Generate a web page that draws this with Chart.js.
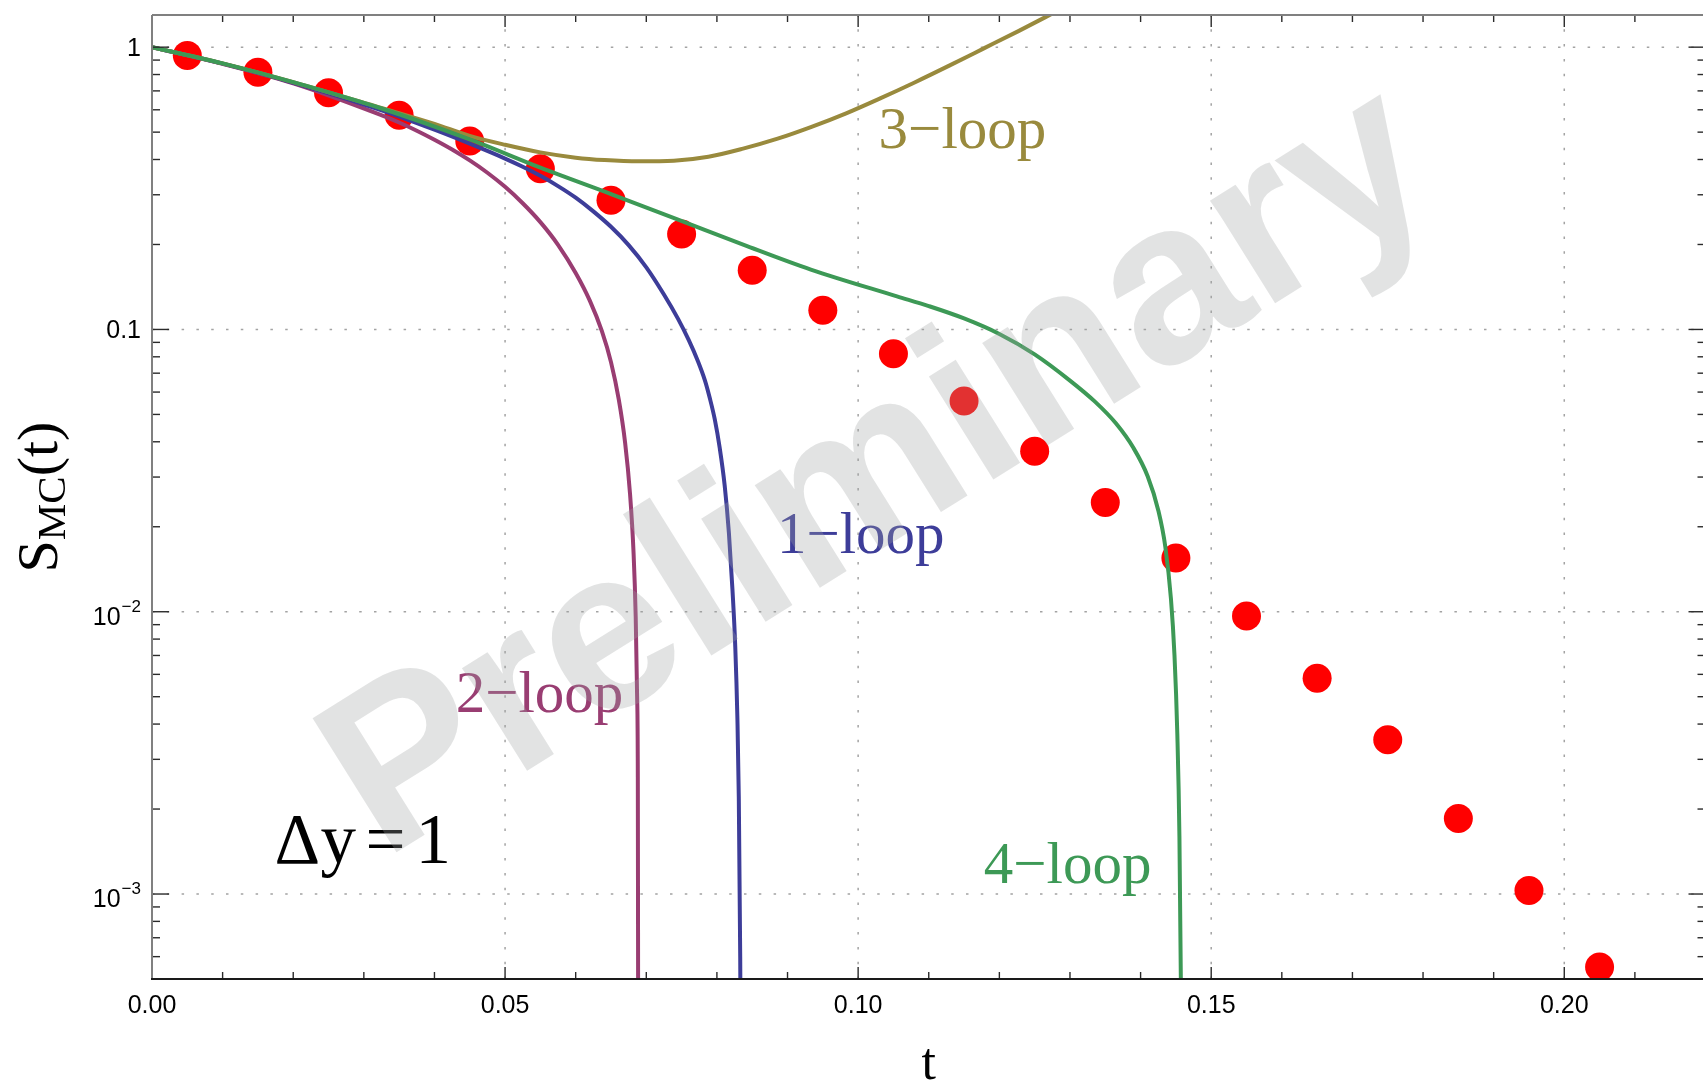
<!DOCTYPE html>
<html>
<head>
<meta charset="utf-8">
<title>S_MC(t)</title>
<script src="https://cdn.jsdelivr.net/npm/chart.js@4.4.1/dist/chart.umd.min.js"></script>
<style>
  html, body { margin: 0; padding: 0; background: #fff; overflow: hidden; }
  #chart { display: block; }
</style>
</head>
<body>
<canvas id="chart" width="1720" height="1085"></canvas>
<script>
// Monte Carlo points (red dots)
const mcT = [0.005, 0.015, 0.025, 0.035, 0.045, 0.055, 0.065, 0.075, 0.085, 0.095, 0.105,
             0.115, 0.125, 0.135, 0.145, 0.155, 0.165, 0.175, 0.185, 0.195, 0.205];
const mcS = [0.935, 0.815, 0.689, 0.574, 0.465, 0.371, 0.287, 0.218, 0.162, 0.117, 0.082,
             0.0558, 0.0370, 0.0244, 0.0155, 0.00966, 0.00581, 0.00352, 0.00185, 0.00103, 0.000551];

// fixed order curves
const loop1T = [0, 0.01, 0.02, 0.0322, 0.04, 0.045, 0.05, 0.0525, 0.055, 0.0575, 0.06, 0.0625, 0.065, 0.0675,
                0.07, 0.0725, 0.0745, 0.076, 0.0773, 0.0783, 0.079, 0.0797, 0.0804, 0.0811, 0.0817, 0.0822,
                0.0826, 0.0829, 0.0831, 0.0833, 0.0834];
const loop1S = [1, 0.874, 0.748, 0.601, 0.51, 0.455, 0.403, 0.377, 0.350, 0.322, 0.293, 0.262, 0.231, 0.199,
                0.166, 0.133, 0.109, 0.0918, 0.0773, 0.066, 0.057, 0.048, 0.038, 0.028, 0.019, 0.012,
                0.0075, 0.0042, 0.0022, 0.0006, 0.0002];

const loop2T = [0, 0.01, 0.02, 0.0322, 0.035, 0.0375, 0.04, 0.0425, 0.045, 0.0475, 0.05, 0.0525, 0.055, 0.0575,
                0.06, 0.062, 0.0637, 0.065, 0.0661, 0.067, 0.0677, 0.0682, 0.0685, 0.0687, 0.0688, 0.06885, 0.06888];
const loop2S = [1, 0.873, 0.745, 0.578, 0.541, 0.506, 0.470, 0.434, 0.397, 0.359, 0.320, 0.280, 0.240, 0.1995,
                0.1585, 0.1265, 0.0988, 0.0766, 0.0565, 0.0397, 0.0261, 0.0161, 0.0096, 0.0050, 0.0026, 0.0003, 0.0001];

const loop3T = [0, 0.01, 0.02, 0.0322, 0.04, 0.045, 0.05, 0.055, 0.06, 0.0641, 0.069, 0.0739, 0.0788, 0.0837,
                0.0886, 0.0934, 0.0983, 0.1032, 0.108, 0.1129, 0.1178, 0.1227, 0.1266, 0.13];
const loop3S = [1, 0.876, 0.752, 0.612, 0.535, 0.485, 0.451, 0.424, 0.406, 0.398, 0.394, 0.396, 0.409, 0.437,
                0.474, 0.522, 0.583, 0.66, 0.75, 0.86, 0.99, 1.14, 1.28, 1.42];

const loop4T = [0, 0.01, 0.02, 0.0322, 0.045, 0.055, 0.0651, 0.0745, 0.0839, 0.0933, 0.1055, 0.11, 0.115, 0.12,
                0.125, 0.13, 0.1335, 0.1365, 0.139, 0.141, 0.1425, 0.1435, 0.1443, 0.1448, 0.1452, 0.1455,
                0.1457, 0.1458];
const loop4S = [1, 0.876, 0.752, 0.61, 0.471, 0.374, 0.301, 0.245, 0.199, 0.163, 0.131, 0.121, 0.1094, 0.0964,
                0.0816, 0.0659, 0.0556, 0.0465, 0.038, 0.0302, 0.0229, 0.0170, 0.0111, 0.0070, 0.0037, 0.0016,
                0.0005, 0.0002];

// axes
const xTickValues = [0, 0.05, 0.10, 0.15, 0.20];
const xTickLabels = ['0.00', '0.05', '0.10', '0.15', '0.20'];
const yTickValues = [1e-3, 1e-2, 0.1, 1];
const yTickBase = ['10', '10', '0.1', '1'];
const yTickExp = ['\u22123', '\u22122', '', ''];

// curve labels, anchored in data coordinates (left edge, baseline)
const labelText = ['1\u2212loop', '2\u2212loop', '3\u2212loop', '4\u2212loop'];
const labelT = [0.0885, 0.0430, 0.1029, 0.1178];
const labelS = [0.0162, 0.00440, 0.438, 0.00109];

const colLoop1 = '#3d3d99';
const colLoop2 = '#993d72';
const colLoop3 = '#998a3d';
const colLoop4 = '#3d9956';
const labelColors = [colLoop1, colLoop2, colLoop3, colLoop4];

const SERIF = '"Liberation Serif", "Times New Roman", serif';
const SANS = '"Liberation Sans", Arial, sans-serif';

function pts(ts, ss) {
  return ts.map((t, i) => ({ x: t, y: ss[i] }));
}

function curve(label, ts, ss, color, order) {
  return {
    label: label,
    data: pts(ts, ss),
    showLine: true,
    borderColor: color,
    borderWidth: 4,
    pointRadius: 0,
    cubicInterpolationMode: 'monotone',
    order: order
  };
}

const decorPlugin = {
  id: 'decor',
  beforeDatasetsDraw(chart) {
    const { ctx, chartArea: a, scales: { x, y } } = chart;
    ctx.save();
    ctx.strokeStyle = '#a3a3a3';
    ctx.lineWidth = 1.5;
    ctx.setLineDash([2.5, 12.3]);
    xTickValues.forEach(v => {
      if (v <= x.min) return;
      const px = x.getPixelForValue(v);
      ctx.beginPath(); ctx.moveTo(px, a.bottom); ctx.lineTo(px, a.top); ctx.stroke();
    });
    yTickValues.forEach(v => {
      const py = y.getPixelForValue(v);
      ctx.beginPath(); ctx.moveTo(a.left, py); ctx.lineTo(a.right, py); ctx.stroke();
    });
    ctx.restore();
  },
  afterDatasetsDraw(chart) {
    const { ctx, chartArea: a, scales: { x, y } } = chart;
    ctx.save();

    function seg(x1, y1, x2, y2) {
      ctx.beginPath(); ctx.moveTo(x1, y1); ctx.lineTo(x2, y2); ctx.stroke();
    }

    // tick marks, drawn inward on all four sides
    ctx.strokeStyle = '#2a2a2a';
    ctx.lineWidth = 1.4;
    for (let i = 1; i <= 21; i++) {
      const px = x.getPixelForValue(i / 100);
      const len = (i % 5 === 0) ? 12 : 7;
      seg(px, a.bottom, px, a.bottom - len);
      seg(px, a.top, px, a.top + len);
    }
    for (let k = -4; k <= 0; k++) {
      for (let m = 1; m <= 9; m++) {
        const v = m * Math.pow(10, k);
        if (v <= y.min || v > y.max) continue;
        const py = y.getPixelForValue(v);
        const len = (m === 1) ? 17 : 8;
        seg(a.left, py, a.left + len, py);
        seg(a.right, py, a.right - len, py);
      }
    }

    // frame
    ctx.lineWidth = 2;
    ctx.strokeStyle = '#808080';
    seg(a.left, a.bottom, a.left, a.top);
    seg(a.left, a.top, a.right, a.top);
    seg(a.right, a.top, a.right, a.bottom);
    ctx.strokeStyle = '#1a1a1a';
    seg(a.left - 1, a.bottom, a.right, a.bottom);

    // tick labels
    ctx.fillStyle = '#000';
    ctx.font = '25px ' + SANS;
    ctx.textAlign = 'center';
    ctx.textBaseline = 'alphabetic';
    xTickValues.forEach((v, i) => {
      ctx.fillText(xTickLabels[i], x.getPixelForValue(v), a.bottom + 34);
    });
    ctx.textAlign = 'right';
    yTickValues.forEach((v, i) => {
      const py = y.getPixelForValue(v);
      const right = a.left - 11;
      if (yTickExp[i]) {
        ctx.font = '17px ' + SANS;
        const we = ctx.measureText(yTickExp[i]).width;
        ctx.fillText(yTickExp[i], right, py);
        ctx.font = '25px ' + SANS;
        ctx.fillText(yTickBase[i], right - we - 1, py + 13);
      } else {
        ctx.font = '25px ' + SANS;
        ctx.fillText(yTickBase[i], right, py + 9);
      }
    });

    // axis titles
    ctx.textAlign = 'center';
    ctx.font = '52px ' + SERIF;
    ctx.fillText('t', (a.left + a.right) / 2, 1079);

    ctx.save();
    ctx.translate(57, (a.top + a.bottom) / 2);
    ctx.rotate(-Math.PI / 2);
    ctx.textAlign = 'left';
    ctx.font = '58px ' + SERIF;
    const wS = ctx.measureText('S').width;
    const wP = ctx.measureText('(t)').width;
    ctx.font = '41px ' + SERIF;
    const wM = ctx.measureText('MC').width;
    let x0 = -(wS + wM + wP) / 2;
    ctx.font = '58px ' + SERIF;
    ctx.fillText('S', x0, 0);
    ctx.font = '41px ' + SERIF;
    ctx.fillText('MC', x0 + wS, 8);
    ctx.font = '58px ' + SERIF;
    ctx.fillText('(t)', x0 + wS + wM, 0);
    ctx.restore();

    // curve labels
    ctx.textAlign = 'left';
    ctx.font = '59px ' + SERIF;
    labelText.forEach((txt, i) => {
      ctx.fillStyle = labelColors[i];
      ctx.fillText(txt, x.getPixelForValue(labelT[i]), y.getPixelForValue(labelS[i]));
    });

    // Δy = 1
    ctx.fillStyle = '#000';
    ctx.font = '71px ' + SERIF;
    const dx = x.getPixelForValue(0.0175) - 1;
    const dy = y.getPixelForValue(0.00129);
    ctx.fillText('\u0394', dx, dy);
    ctx.fillText('y', dx + 46, dy);
    ctx.fillText('=', dx + 91, dy);
    ctx.fillText('1', dx + 141, dy);

    ctx.restore();
  },
  afterDraw(chart) {
    const { ctx, scales: { x, y } } = chart;
    ctx.save();
    ctx.translate(x.getPixelForValue(0.108), y.getPixelForValue(0.0197));
    ctx.rotate(-32 * Math.PI / 180);
    ctx.font = 'bold 230px ' + SANS;
    ctx.textAlign = 'center';
    ctx.textBaseline = 'alphabetic';
    ctx.fillStyle = 'rgba(160, 163, 163, 0.3)';
    ctx.fillText('Preliminary', 0, 0);
    ctx.restore();
  }
};

new Chart(document.getElementById('chart'), {
  type: 'scatter',
  data: {
    datasets: [
      curve('4-loop', loop4T, loop4S, colLoop4, 0),
      curve('3-loop', loop3T, loop3S, colLoop3, 1),
      curve('1-loop', loop1T, loop1S, colLoop1, 2),
      curve('2-loop', loop2T, loop2S, colLoop2, 3),
      {
        label: 'MC',
        data: pts(mcT, mcS),
        pointRadius: 14.5,
        pointBackgroundColor: '#ff0000',
        pointBorderWidth: 0,
        backgroundColor: '#ff0000',
        borderWidth: 0,
        order: 5
      }
    ]
  },
  options: {
    responsive: false,
    animation: false,
    devicePixelRatio: 1,
    events: [],
    layout: { padding: { top: 15, right: 8, left: 0, bottom: 0 } },
    plugins: { legend: { display: false }, tooltip: { enabled: false } },
    scales: {
      x: {
        type: 'linear',
        min: 0,
        max: 0.22,
        grid: { display: false },
        border: { display: false },
        ticks: { display: false },
        afterBuildTicks: s => { s.ticks = xTickValues.map(v => ({ value: v })); },
        afterFit: s => { s.height = 106; }
      },
      y: {
        type: 'logarithmic',
        min: 5e-4,
        max: 1.3,
        grid: { display: false },
        border: { display: false },
        ticks: { display: false },
        afterBuildTicks: s => { s.ticks = yTickValues.map(v => ({ value: v })); },
        afterFit: s => { s.width = 152; }
      }
    }
  },
  plugins: [decorPlugin]
});
</script>
</body>
</html>
